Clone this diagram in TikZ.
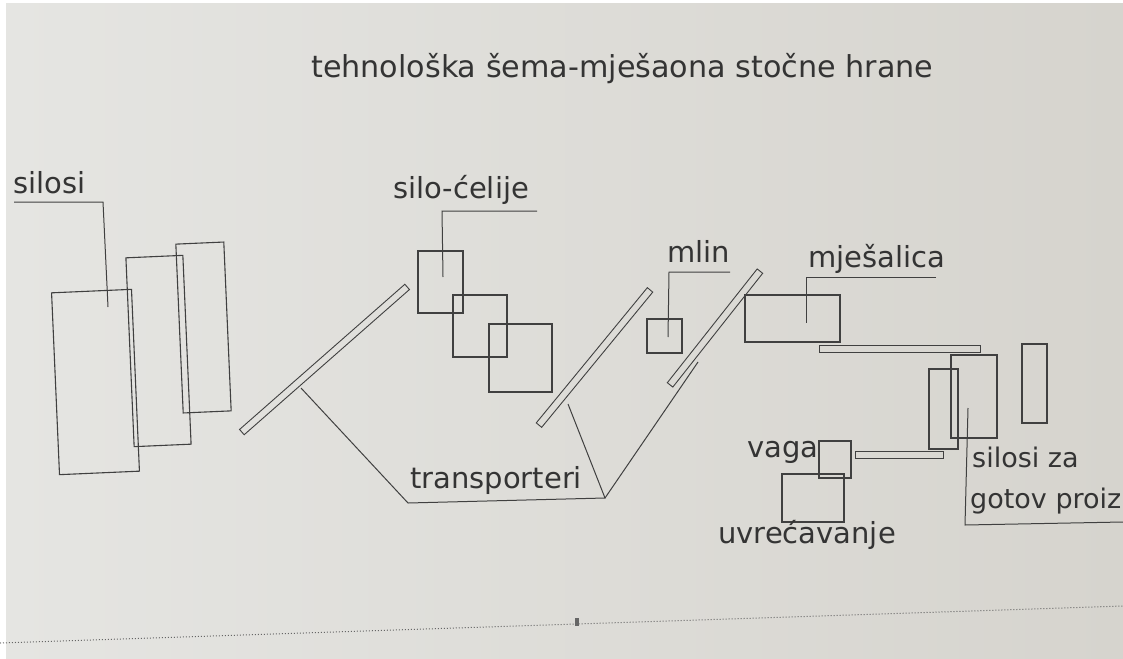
\documentclass[tikz,border=0pt]{standalone}
\usepackage{fontspec}
\setmainfont{DejaVu Sans}
\usetikzlibrary{calc}
\definecolor{ink}{HTML}{404040}
\definecolor{txt}{HTML}{343434}
\definecolor{scrL}{HTML}{E5E5E2}
\definecolor{scrM}{HTML}{F0F0EE}
\definecolor{scrR}{HTML}{D6D4CE}
\begin{document}
\begin{tikzpicture}[x=1pt,y=-1pt,
  box/.style={draw=ink,line width=1.1pt,inner sep=0pt,outer sep=0pt},
  belt/.style={draw=ink,line width=0.9pt,inner sep=0pt,outer sep=0pt,minimum height=7pt},
  lbl/.style={text=txt,font=\fontsize{29}{34}\selectfont,inner sep=0pt,anchor=base west},
  small/.style={lbl,font=\fontsize{27}{32}\selectfont},
  lead/.style={draw=ink,line width=1pt}]
\useasboundingbox (0,0) rectangle (1123,658);
\fill[white] (0,0) rectangle (1123,658);
\shade[left color=scrL,middle color=scrM,right color=scrR] (6,4) rectangle (1123,658);
\begin{scope}
\clip (0,0) rectangle (1123,658);
% title
\node[lbl,font=\fontsize{30.2}{36}\selectfont] (title) at (311,78) {tehnološka šema-mješaona stočne hrane};
% silosi
\node[box,minimum width=80pt,minimum height=182pt,rotate=2.5] (siloA) at (95.5,382) {};
\node[box,minimum width=57pt,minimum height=189pt,rotate=2.5] (siloB) at (158.5,351) {};
\node[box,minimum width=48pt,minimum height=169pt,rotate=2.5] (siloC) at (203.5,327.5) {};
\node[lbl] (tSilosi) at (13,193) {silosi};
\coordinate (sU1) at (14,202);
\coordinate (sU2) at (103,202);
\coordinate (sT) at (108,307);
\draw[lead] (sU1) -- (sU2) -- (sT);
% transporters
\node[belt,minimum width=220pt,rotate=41.3] (bar1) at (324.5,359.5) {};
\node[belt,minimum width=175pt,rotate=50.6] (bar2) at (594.5,357.5) {};
\node[belt,minimum width=145pt,rotate=51.7] (bar3) at (715,328) {};
\node[belt,minimum width=161pt] (bar4) at (899.5,348.5) {};
\node[belt,minimum width=88pt] (bar5) at (899,455) {};
% silo-celije
\node[box,minimum width=45pt,minimum height=62pt] (cel1) at (440.5,282) {};
\node[box,minimum width=54pt,minimum height=62pt] (cel2) at (480,326) {};
\node[box,minimum width=63pt,minimum height=68pt] (cel3) at (520.5,358) {};
\node[lbl] (tCel) at (393,198) {silo-ćelije};
\coordinate (cU1) at (442,211);
\coordinate (cU2) at (537,211);
\coordinate (cT) at (443,277);
\draw[lead] (cU2) -- (cU1) -- (cT);
% mlin
\node[box,minimum width=35pt,minimum height=34pt] (mlin) at (664.5,336) {};
\node[lbl] (tMlin) at (667,262) {mlin};
\coordinate (mU1) at (669,272);
\coordinate (mU2) at (730,272);
\coordinate (mT) at (668,337);
\draw[lead] (mU2) -- (mU1) -- (mT);
% mjesalica
\node[box,minimum width=95pt,minimum height=47pt] (mix) at (792.5,318.5) {};
\node[lbl] (tMix) at (808,267) {mješalica};
\coordinate (xU1) at (806,277);
\coordinate (xU2) at (936,277);
\coordinate (xT) at (806,323);
\draw[lead] (xU2) -- (xU1) -- (xT);
% silosi za gotov proizvod
\node[box,minimum width=29pt,minimum height=80pt] (got1) at (943.5,409) {};
\node[box,minimum width=46pt,minimum height=83pt] (got2) at (974,396.5) {};
\node[box,minimum width=25pt,minimum height=79pt] (got3) at (1034.5,383.5) {};
\node[small] (tGot1) at (972,467) {silosi za};
\node[small] (tGot2) at (970,508) {gotov proiz};
\coordinate (gT) at (968,408);
\coordinate (gC) at (965,525);
\coordinate (gE) at (1123,522);
\draw[lead] (gT) -- (gC) -- (gE);
% vaga, uvrecavanje
\node[box,minimum width=32pt,minimum height=37pt] (vaga) at (835,459.5) {};
\node[box,minimum width=62pt,minimum height=48pt] (bag) at (813,498) {};
\node[lbl] (tVaga) at (747,457) {vaga};
\node[lbl] (tBag) at (718,543) {uvrećavanje};
% transporteri label
\node[lbl] (tTr) at (410,488) {transporteri};
\coordinate (t1) at (301,388);
\coordinate (tL) at (408,503);
\coordinate (tR) at (605,498);
\coordinate (t2) at (568,404);
\coordinate (t3) at (698,362);
\draw[lead] (t1) -- (tL) -- (tR) -- (t2);
\draw[lead] (tR) -- (t3);
% screen bottom
\coordinate (dl) at (0,643);
\coordinate (dr) at (1123,606);
\draw[gray!80!black,dotted,line width=1pt] (dl) -- (dr);
\node[fill=gray!80!black,minimum width=4pt,minimum height=8pt,inner sep=0pt] (mark) at (577,622) {};
\end{scope}
\end{tikzpicture}
\end{document}
